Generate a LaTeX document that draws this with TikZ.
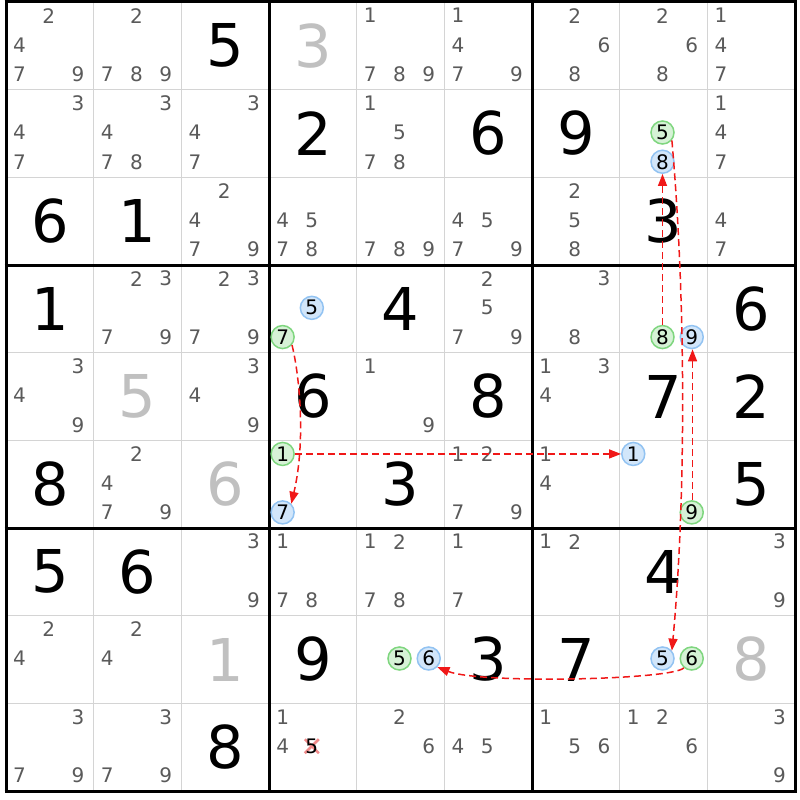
\documentclass[tikz,border=0pt]{standalone}
\usepackage{fontspec}
\setmainfont{DejaVu Sans}
\usetikzlibrary{arrows.meta}
\definecolor{candc}{HTML}{5A5A5A}
\definecolor{solc}{HTML}{C0C0C0}
\definecolor{thinc}{HTML}{D4D4D4}
\definecolor{gfill}{HTML}{D6F2D6}
\definecolor{gdraw}{HTML}{7FD67F}
\definecolor{bfill}{HTML}{D2E6FA}
\definecolor{bdraw}{HTML}{92C3F2}
\definecolor{linkc}{HTML}{F01818}
\definecolor{xc}{HTML}{F08A8A}
\begin{document}
\begin{tikzpicture}[x=1pt,y=-1pt,
  declare function={cx(\c)=6+(\c-0.5)*87.667; cy(\r)=2+(\r-0.5)*87.667;
    kx(\c,\k)=6+(\c-1)*87.667+(mod(\k-1,3)+0.5)*29.222-1;
    ky(\r,\k)=2+(\r-1)*87.667+(floor((\k-1)/3)+0.5)*29.222-1;},
  thinline/.style={draw=thinc,line width=1.5pt},
  thickline/.style={draw=black,line width=3pt},
  bigdig/.style={inner sep=0pt,font=\fontsize{59}{59}\selectfont,text=black},
  soldig/.style={bigdig,text=solc},
  cnd/.style={inner sep=0pt,font=\fontsize{20}{20}\selectfont,text=candc},
  hlg/.style={circle,inner sep=0pt,minimum size=23pt,fill=gfill,draw=gdraw,line width=1.5pt,font=\fontsize{20}{20}\selectfont,text=black},
  hlb/.style={hlg,fill=bfill,draw=bdraw},
  lnk/.style={draw=linkc,line width=1.5pt,dash pattern=on 7pt off 4pt,-{Triangle[length=12pt,width=9pt]}}
]
\useasboundingbox (0,0) rectangle (800,800);
\fill[white] (0,0) rectangle (800,800);
% thin grid lines
\foreach \i in {1,2,4,5,7,8}{
  \draw[thinline] ({6+\i*87.667},2) -- ({6+\i*87.667},791);
  \draw[thinline] (6,{2+\i*87.667}) -- (795,{2+\i*87.667});
}
\foreach \i in {0,3,6,9}{
  \draw[thickline] ({6+\i*87.667},0.5) -- ({6+\i*87.667},792.5);
  \draw[thickline] (4.5,{2+\i*87.667}) -- (796.5,{2+\i*87.667});
}
% given digits
\foreach \r/\c/\d in {1/3/5,2/4/2,2/6/6,2/7/9,3/1/6,3/2/1,3/8/3,4/1/1,4/5/4,4/9/6,
  5/4/6,5/6/8,5/8/7,5/9/2,6/1/8,6/5/3,6/9/5,7/1/5,7/2/6,7/8/4,8/4/9,8/6/3,8/7/7,9/3/8}{
  \node[bigdig] (g\r\c) at ({cx(\c)},{cy(\r)}) {\d};
}
% solved digits
\foreach \r/\c/\d in {1/4/3,5/2/5,6/3/6,8/3/1,8/9/8}{
  \node[soldig] (s\r\c) at ({cx(\c)},{cy(\r)}) {\d};
}
% candidates
\foreach \r/\c/\ks in {1/1/{2,4,7,9},1/2/{2,7,8,9},1/5/{1,7,8,9},1/6/{1,4,7,9},1/7/{2,6,8},1/8/{2,6,8},1/9/{1,4,7},
  2/1/{3,4,7},2/2/{3,4,7,8},2/3/{3,4,7},2/5/{1,5,7,8},2/9/{1,4,7},
  3/3/{2,4,7,9},3/4/{4,5,7,8},3/5/{7,8,9},3/6/{4,5,7,9},3/7/{2,5,8},3/9/{4,7},
  4/2/{2,3,7,9},4/3/{2,3,7,9},4/6/{2,5,7,9},4/7/{3,8},
  5/1/{3,4,9},5/3/{3,4,9},5/5/{1,9},5/7/{1,3,4},
  6/2/{2,4,7,9},6/6/{1,2,7,9},6/7/{1,4},
  7/3/{3,9},7/4/{1,7,8},7/5/{1,2,7,8},7/6/{1,7},7/7/{1,2},7/9/{3,9},
  8/1/{2,4},8/2/{2,4},
  9/1/{3,7,9},9/2/{3,7,9},9/4/{1,4},9/5/{2,6},9/6/{4,5},9/7/{1,5,6},9/8/{1,2,6},9/9/{3,9}}{
  \foreach \k in \ks {
    \node[cnd] (k\r\c\k) at ({kx(\c,\k)},{ky(\r,\k)}) {\k};
  }
}
% eliminated candidate
\coordinate (x945) at ({kx(4,5)},{ky(9,5)});
\draw[xc,line width=2.5pt] ([shift={(-7,-7)}]x945) -- ([shift={(7,7)}]x945)
  ([shift={(-7,7)}]x945) -- ([shift={(7,-7)}]x945);
\node[cnd,text=black] (k945) at (x945) {5};
% highlighted candidates
\foreach \r/\c/\k/\s in {2/8/5/hlg,2/8/8/hlb,4/4/5/hlb,4/4/7/hlg,4/8/8/hlg,4/8/9/hlb,
  6/4/1/hlg,6/4/7/hlb,6/8/1/hlb,6/8/9/hlg,8/5/5/hlg,8/5/6/hlb,8/8/5/hlb,8/8/6/hlg}{
  \node[\s] (h\r\c\k) at ({kx(\c,\k)},{ky(\r,\k)}) {\k};
}
% links
\draw[lnk] (h447.-40) .. controls +(7,28) and +(15,-64) .. (h647.45);
\draw[lnk] (h641.east) -- (h681.west);
\draw[lnk] (h488.north) -- (h288.south);
\draw[lnk] (h285.-40) .. controls (686,300) and (686,500) .. (h885.40);
\draw[lnk] ([xshift=0.8pt]h689.north) -- ([xshift=0.8pt]h489.south);
\draw[lnk] (h886.-130) .. controls (672,680) and (480,684) .. (h856.-45);
\end{tikzpicture}
\end{document}
